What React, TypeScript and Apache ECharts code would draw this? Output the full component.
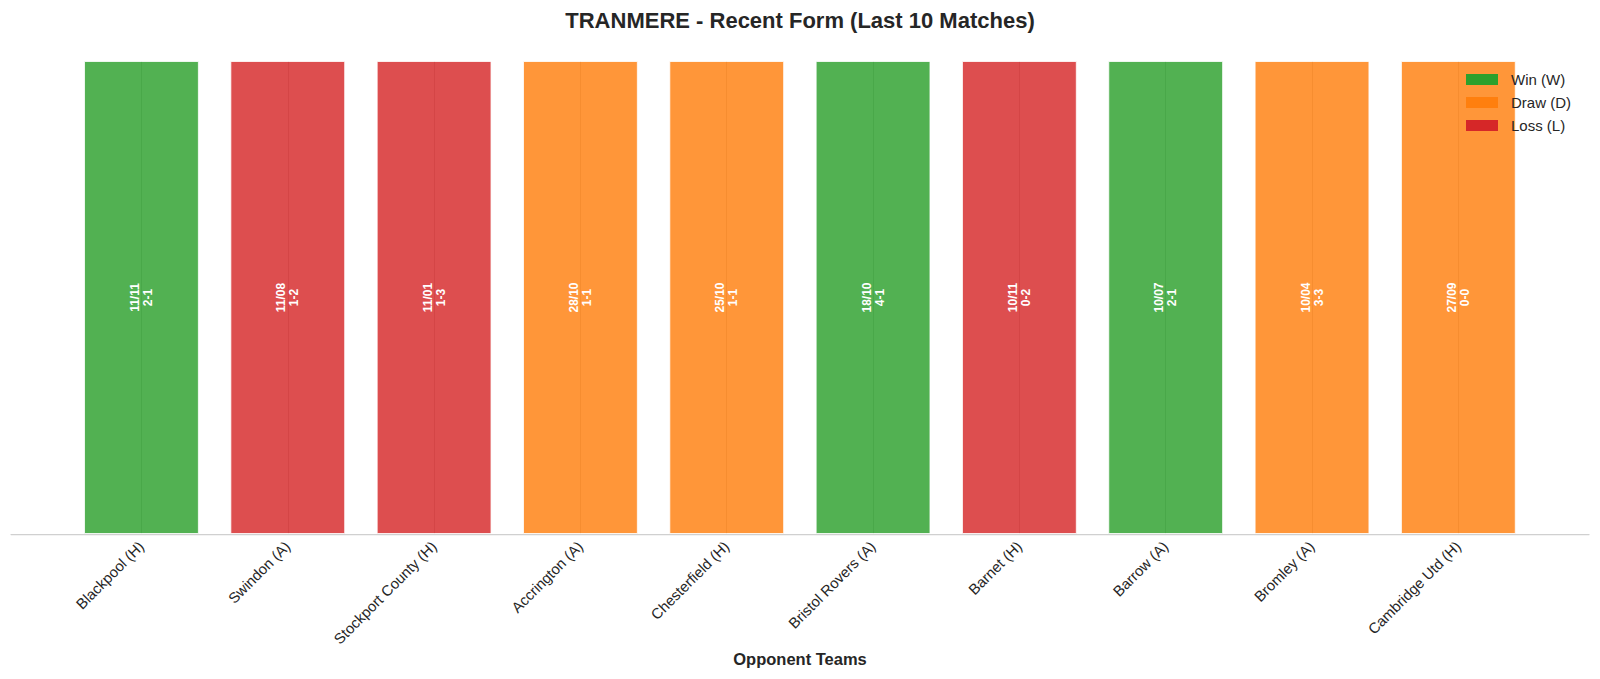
import React, { useEffect, useRef } from "react";
import * as echarts from "echarts";

const categories = [
  "Blackpool (H)",
  "Swindon (A)",
  "Stockport County (H)",
  "Accrington (A)",
  "Chesterfield (H)",
  "Bristol Rovers (A)",
  "Barnet (H)",
  "Barrow (A)",
  "Bromley (A)",
  "Cambridge Utd (H)",
];
const results = ["W", "L", "L", "D", "D", "W", "L", "W", "D", "D"];
const dates = ["11/11", "11/08", "11/01", "28/10", "25/10", "18/10", "10/11", "10/07", "10/04", "27/09"];
const scores = ["2-1", "1-2", "1-3", "1-1", "1-1", "4-1", "0-2", "2-1", "3-3", "0-0"];
const barValues = [1, 1, 1, 1, 1, 1, 1, 1, 1, 1];

const resultTypes = ["W", "D", "L"];
const resultNames: Record<string, string> = { W: "Win (W)", D: "Draw (D)", L: "Loss (L)" };
const resultColors: Record<string, string> = { W: "#2ca02c", D: "#ff7f0e", L: "#d62728" };
const resultColorsAlpha: Record<string, string> = {
  W: "rgba(44,160,44,0.82)",
  D: "rgba(255,127,14,0.82)",
  L: "rgba(214,39,40,0.82)",
};

const FONT = "'Liberation Sans', Arial, Helvetica, sans-serif";

export default function App() {
  const ref = useRef<HTMLDivElement>(null);

  useEffect(() => {
    document.body.style.margin = "0";
    if (!ref.current) return;
    const chart = echarts.init(ref.current, undefined, { renderer: "svg" });

    const series = resultTypes.map((t) => ({
      type: "bar",
      name: resultNames[t],
      xAxisIndex: 0,
      yAxisIndex: 0,
      stack: "form",
      barWidth: "78.5%",
      data: barValues.map((v, i) => (results[i] === t ? v : "-")),
      itemStyle: {
        color: resultColorsAlpha[t],
        borderColor: "rgba(255,255,255,0.8)",
        borderWidth: 1,
      },
      label: {
        show: true,
        position: "inside",
        rotate: 90,
        color: "#ffffff",
        fontWeight: "bold",
        fontSize: 12,
        lineHeight: 13,
        fontFamily: FONT,
        formatter: (p: any) => dates[p.dataIndex] + "\n" + scores[p.dataIndex],
      },
      emphasis: { disabled: true },
    }));

    const option: any = {
      animation: false,
      backgroundColor: "#ffffff",
      textStyle: { fontFamily: FONT },
      title: {
        text: "TRANMERE - Recent Form (Last 10 Matches)",
        left: "center",
        top: 4,
        textStyle: { fontSize: 22, fontWeight: "bold", color: "#262626", fontFamily: FONT },
      },
      legend: {
        orient: "vertical",
        left: 1461,
        top: 67,
        itemWidth: 32,
        itemHeight: 11,
        itemGap: 8,
        icon: "rect",
        textStyle: {
          fontSize: 15,
          lineHeight: 15,
          color: "#262626",
          fontFamily: FONT,
          padding: [0, 0, 0, 8],
        },
        data: resultTypes.map((t) => ({
          name: resultNames[t],
          itemStyle: { color: resultColors[t], opacity: 1, borderWidth: 0 },
        })),
      },
      grid: [
        { left: 68.3, right: 68.5, top: 61, bottom: 145 },
        { left: 11, right: 11, top: 61, bottom: 145 },
        { left: 141.5, right: 141.7, top: 61, bottom: 145 },
      ],
      xAxis: [
        {
          type: "category",
          gridIndex: 0,
          data: categories,
          axisLine: { show: false },
          axisTick: { show: false },
          axisLabel: {
            rotate: 45,
            interval: 0,
            fontSize: 14.8,
            color: "#262626",
            margin: 10,
            fontFamily: FONT,
          },
        },
        {
          type: "value",
          gridIndex: 1,
          min: 0,
          max: 1,
          axisLine: { show: true, lineStyle: { color: "#d0d0d0", width: 1.25 } },
          axisTick: { show: false },
          axisLabel: { show: false },
          splitLine: { show: false },
          name: "Opponent Teams",
          nameLocation: "middle",
          nameGap: 116,
          nameTextStyle: { fontSize: 16.5, fontWeight: "bold", color: "#262626", fontFamily: FONT },
        },
        {
          type: "value",
          gridIndex: 2,
          min: 0,
          max: 9,
          interval: 1,
          axisLine: { show: false },
          axisTick: { show: false },
          axisLabel: { show: false },
          splitLine: { show: true, lineStyle: { color: "#cccccc", width: 1 } },
        },
      ],
      yAxis: [0, 1, 2].map((g) => ({
        type: "value",
        gridIndex: g,
        min: 0,
        max: 1,
        show: false,
        splitLine: { show: false },
      })),
      series,
    };

    chart.setOption(option);
    return () => chart.dispose();
  }, []);

  return <div ref={ref} style={{ width: 1600, height: 679 }} />;
}
